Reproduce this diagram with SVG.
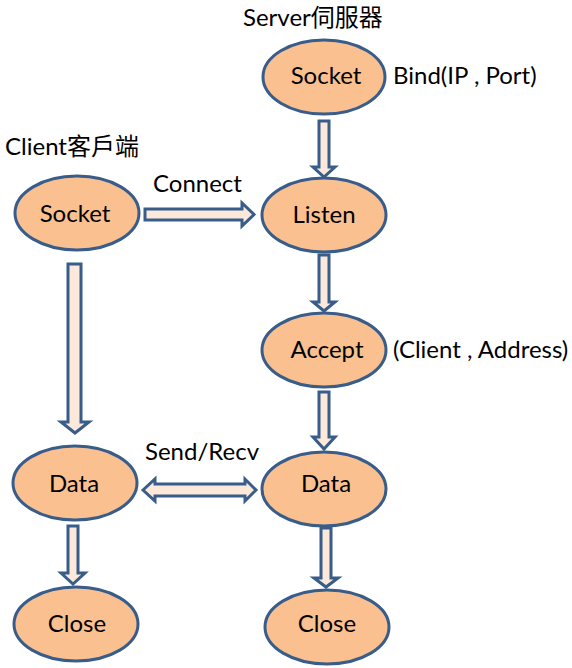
<svg xmlns="http://www.w3.org/2000/svg" width="572" height="668" viewBox="0 0 572 668">
<style>
.node ellipse{fill:#FAC090;stroke:#385D8A;stroke-width:3}
.arrow{fill:#FDE9D9;stroke:#385D8A;stroke-width:3;stroke-linejoin:miter}
text{font-family:Lato,"Noto Sans CJK TC","Noto Sans",sans-serif;font-size:24px;fill:#000}
.c{text-anchor:middle}
</style>
<rect width="572" height="668" fill="#fff"/>
<text x="243" y="26">Server伺服器</text>
<text x="5" y="155">Client客戶端</text>
<g id="connectors">
<polygon class="arrow" points="319,121 329,121 329,167 335,167 324,177 313,167 319,167"/>
<polygon class="arrow" points="319,255 329,255 329,302 335,302 324,311 313,302 319,302"/>
<polygon class="arrow" points="319,392 329,392 329,437 335,437 324,449 313,437 319,437"/>
<polygon class="arrow" points="321,528 331,528 331,578 338,578 326,587 314,578 321,578"/>
<polygon class="arrow" points="68,264 81,264 81,422 89,422 75,433 61,422 68,422"/>
<polygon class="arrow" points="68,526 78,526 78,573 85,573 73,584 61,573 68,573"/>
<polygon class="arrow" points="145,209 242,209 242,203 254,214.5 242,226 242,220 145,220"/>
<polygon class="arrow" points="143,490 155,479 155,484 245,484 245,479 256,490 245,501 245,496 155,496 155,501"/>
<text x="153" y="192">Connect</text>
<text x="145" y="460">Send/Recv</text>
</g>
<g id="server-socket" class="node"><ellipse cx="324" cy="77" rx="61" ry="37"/><text class="c" x="326" y="84">Socket</text></g>
<text x="393" y="84">Bind(IP , Port)</text>
<g id="server-listen" class="node"><ellipse cx="324" cy="215" rx="62" ry="37"/><text class="c" x="324" y="223">Listen</text></g>
<g id="server-accept" class="node"><ellipse cx="324" cy="350" rx="62" ry="37"/><text class="c" x="327" y="358">Accept</text></g>
<text x="393" y="358">(Client , Address)</text>
<g id="server-data" class="node"><ellipse cx="324" cy="489" rx="62" ry="37"/><text class="c" x="326" y="492">Data</text></g>
<g id="server-close" class="node"><ellipse cx="327" cy="627" rx="62" ry="37"/><text class="c" x="327" y="632">Close</text></g>
<g id="client-socket" class="node"><ellipse cx="77" cy="213" rx="62" ry="37"/><text class="c" x="75" y="222">Socket</text></g>
<g id="client-data" class="node"><ellipse cx="75" cy="483" rx="62" ry="37"/><text class="c" x="74" y="492">Data</text></g>
<g id="client-close" class="node"><ellipse cx="76" cy="624" rx="62" ry="37"/><text class="c" x="77" y="632">Close</text></g>
</svg>
